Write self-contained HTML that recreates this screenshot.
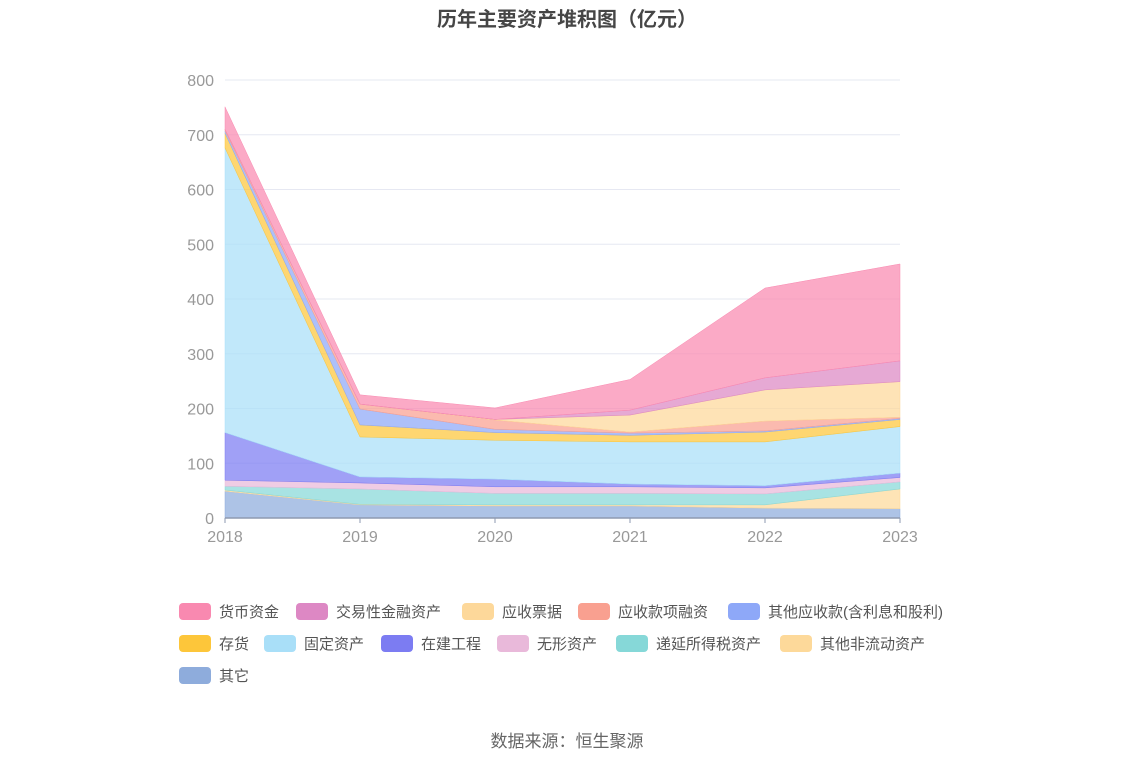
<!DOCTYPE html>
<html><head><meta charset="utf-8"><style>
body{margin:0;background:#fff;width:1134px;height:766px;overflow:hidden;font-family:"Liberation Sans","Noto Sans CJK SC",sans-serif}
</style></head><body>
<svg id="chart" width="1134" height="766" xmlns="http://www.w3.org/2000/svg" font-family="Liberation Sans, Noto Sans CJK SC, sans-serif">
<text x="567" y="26" text-anchor="middle" font-size="20" font-weight="bold" fill="#464646">历年主要资产堆积图（亿元）</text>
<g id="grid"></g><g id="areas"></g><g id="axes"></g><g id="legend"></g>
<text x="567" y="747" text-anchor="middle" font-size="17" fill="#666">数据来源：恒生聚源</text>
</svg>
<script>
const years=["2018","2019","2020","2021","2022","2023"];
const yTicks=[0,100,200,300,400,500,600,700,800];
const seriesNames=["其它","其他非流动资产","递延所得税资产","无形资产","在建工程","固定资产","存货","其他应收款(含利息和股利)","应收款项融资","应收票据","交易性金融资产","货币资金"];
const qita=[49,24,22,22,18,17];
const feiliudong=[2,1,2,2,6,36];
const diyan=[7,28,21,21,20,13];
const wuxing=[11,11,12,12,11,8];
const zaijian=[87,11,14,5,4,8];
const guding=[520,73,71,77,80,85];
const cunhuo=[27,22,14,12,18,13];
const qitaYingshou=[4,29,6,4,2,2];
const rongzi=[3,9,17,2,18,2];
const piaoju=[0,0,1,31,57,65];
const jiaoyi=[0,0,0,9,22,38];
const huobi=[41,17,21,56,164,177];
const seriesData=[qita,feiliudong,diyan,wuxing,zaijian,guding,cunhuo,qitaYingshou,rongzi,piaoju,jiaoyi,huobi];
const colors=["#8eacdc","#fdd99a","#86d8d8","#e9b9da","#7c7cf2","#a9dff8","#fdc63a","#8ea8f8","#f9a090","#fdd89a","#dd88c4","#f989b0"];
const NS="http://www.w3.org/2000/svg";
const x0=225,x1=900,yB=518,yT=80,yMax=800;
const xs=i=>x0+(x1-x0)*i/(years.length-1);
const ys=v=>yB-(yB-yT)*v/yMax;
function mk(t,a,p){const e=document.createElementNS(NS,t);for(const k in a)e.setAttribute(k,a[k]);p.appendChild(e);return e;}
const grid=document.getElementById('grid'),axes=document.getElementById('axes'),areas=document.getElementById('areas'),legend=document.getElementById('legend');
yTicks.forEach(t=>{
 const l=mk('line',{x1:x0,x2:x1,y1:ys(t),y2:ys(t),stroke:'#e6e8f2','stroke-width':1},grid);
 
 
 const tx=mk('text',{x:214,y:ys(t)+6,'text-anchor':'end','font-size':16,fill:'#999'},axes);
 tx.textContent=t;
 
 
});
const ax=mk('line',{x1:x0,x2:x1,y1:yB,y2:yB,stroke:'#8e9ab0','stroke-width':1.5},axes);


years.forEach((y,i)=>{
 const tk=mk('line',{x1:xs(i),x2:xs(i),y1:yB,y2:yB+5,stroke:'#8e9ab0'},axes);
 
 
 const tx=mk('text',{x:xs(i),y:yB+24,'text-anchor':'middle','font-size':16,fill:'#999'},axes);
 tx.textContent=y;
 
 
});
let cum=years.map(()=>0);
seriesData.forEach((d,s)=>{
 const lo=cum.slice();const hi=cum.map((c,i)=>c+d[i]);cum=hi;
 let pts=hi.map((v,i)=>xs(i)+','+ys(v));
 for(let i=lo.length-1;i>=0;i--)pts.push(xs(i)+','+ys(lo[i]));
 const p=mk('polygon',{points:pts.join(' '),fill:colors[s],'fill-opacity':0.72,stroke:colors[s],'stroke-width':0.5},areas);
 
 
});
const order=[11,10,9,8,7,6,5,4,3,2,1,0];
const pos=[[179,611],[296,611],[462,611],[578,611],[728,611],[179,643],[264,643],[381,643],[497,643],[616,643],[780,643],[179,675]];
order.forEach((s,k)=>{
 const g=mk('g',{},legend);
 
 
 mk('rect',{x:pos[k][0],y:pos[k][1]-8,width:32,height:17,rx:4,fill:colors[s]},g);
 const t=mk('text',{x:pos[k][0]+40,y:pos[k][1]+6,'font-size':15,fill:'#555'},g);
 t.textContent=seriesNames[s];
});
</script>
</body></html>
